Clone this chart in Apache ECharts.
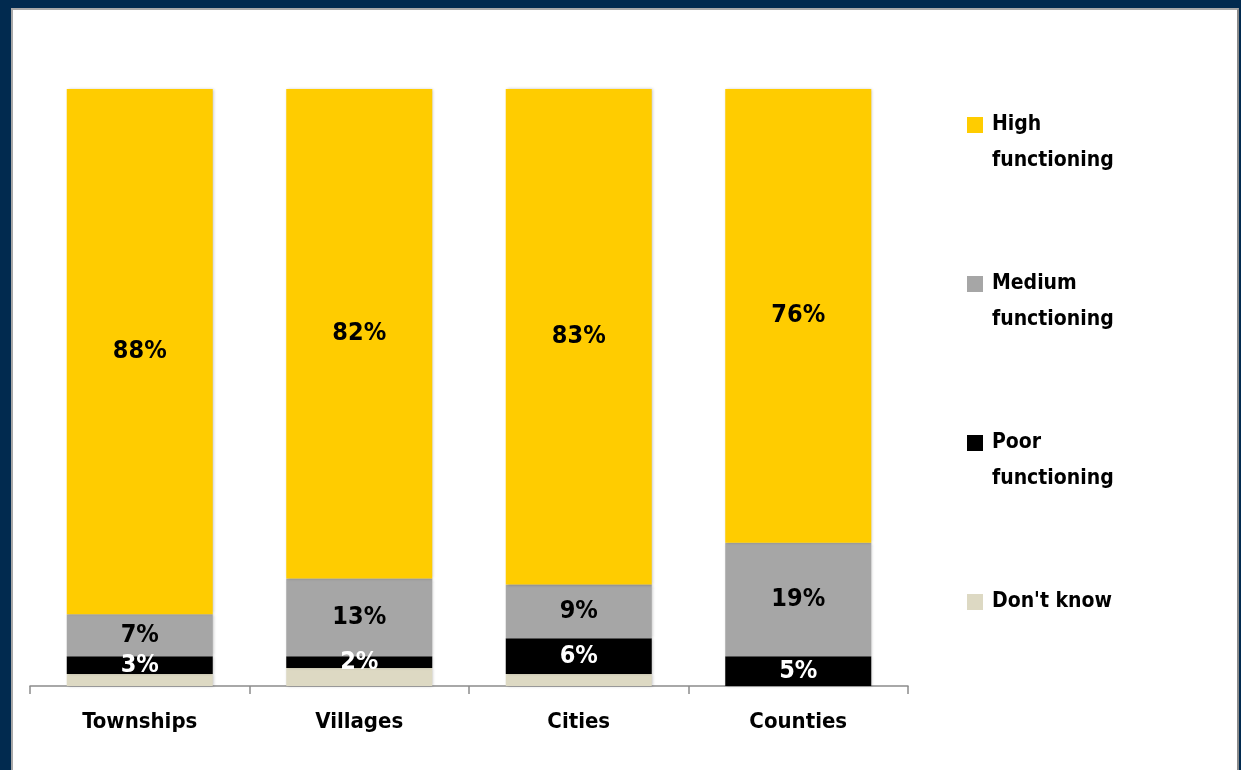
<!DOCTYPE html>
<html>
<head>
<meta charset="utf-8">
<script src="https://cdn.jsdelivr.net/npm/echarts@6/dist/echarts.min.js"></script>
<style>
  html, body { margin: 0; padding: 0; background: #012a4f; }
  #panel {
    position: absolute; left: 11px; top: 8px; width: 1224px; height: 770px;
    background: #fff; border-top: 2px solid #a8a8a8; border-left: 2px solid #a8a8a8; border-right: 2px solid #8a8a8a;
  }
  #main { position: absolute; left: 0; top: 0; width: 1241px; height: 770px; }
</style>
</head>
<body>
<div id="panel"></div>
<div id="main"></div>
<script>
var categories = ['Townships', 'Villages', 'Cities', 'Counties']
var highFunctioning = [88, 82, 83, 76]
var mediumFunctioning = [7, 13, 9, 19]
var poorFunctioning = [3, 2, 6, 5]
var dontKnow = [2, 3, 2, 0]

var FONT = '"Liberation Sans Narrow", "DejaVu Sans Condensed", sans-serif'

var chart = echarts.init(document.getElementById('main'), null, { renderer: 'canvas' })

function barSeries(name, data, color, labelColor, showLabel) {
  return {
    name: name,
    type: 'bar',
    stack: 'total',
    barWidth: 146,
    data: data,
    itemStyle: {
      color: color,
      shadowBlur: 3,
      shadowColor: 'rgba(0,0,0,0.25)',
      shadowOffsetX: 1
    },
    label: {
      show: showLabel,
      position: 'inside',
      formatter: '{c}%',
      color: labelColor,
      fontFamily: FONT,
      fontWeight: 'bold',
      fontSize: 25
    }
  }
}

// leading blank line keeps the icon level with the first text line
var legendNames = {
  'High functioning': '\n{t|High}\n{t|functioning}',
  'Medium functioning': '\n{t|Medium}\n{t|functioning}',
  'Poor functioning': '\n{t|Poor}\n{t|functioning}',
  "Don't know": "\n{t|Don't know}\n"
}

var option = {
  animation: false,
  backgroundColor: 'transparent',
  grid: { left: 30, right: 333, top: 89, bottom: 84 },
  legend: {
    orient: 'vertical',
    left: 967,
    top: 71,
    padding: 0,
    itemWidth: 16,
    itemHeight: 16,
    itemGap: 51,
    itemStyle: { shadowBlur: 0 },
    icon: 'rect',
    textStyle: {
      fontFamily: FONT,
      fontWeight: 'bold',
      fontSize: 21,
      lineHeight: 36,
      color: '#000',
      rich: {
        t: {
          fontFamily: FONT,
          fontWeight: 'bold',
          fontSize: 21,
          lineHeight: 36,
          color: '#000',
          padding: [0, 0, 0, 4]
        }
      }
    },
    formatter: function (name) {
      return legendNames[name]
    },
    data: ['High functioning', 'Medium functioning', 'Poor functioning', "Don't know"]
  },
  xAxis: {
    type: 'category',
    data: categories,
    axisLine: { lineStyle: { color: '#8c8c8c', width: 1.5 } },
    axisTick: { show: true, length: 8, lineStyle: { color: '#8c8c8c', width: 1.5 } },
    axisLabel: {
      margin: 25,
      color: '#000',
      fontFamily: FONT,
      fontWeight: 'bold',
      fontSize: 22
    }
  },
  yAxis: {
    type: 'value',
    min: 0,
    max: 100,
    show: false,
    splitLine: { show: false }
  },
  series: [
    barSeries("Don't know", dontKnow, '#ddd9c3', '#000', false),
    barSeries('Poor functioning', poorFunctioning, '#000000', '#fff', true),
    barSeries('Medium functioning', mediumFunctioning, '#a6a6a6', '#000', true),
    barSeries('High functioning', highFunctioning, '#ffcc00', '#000', true)
  ]
}

chart.setOption(option)
</script>
</body>
</html>
